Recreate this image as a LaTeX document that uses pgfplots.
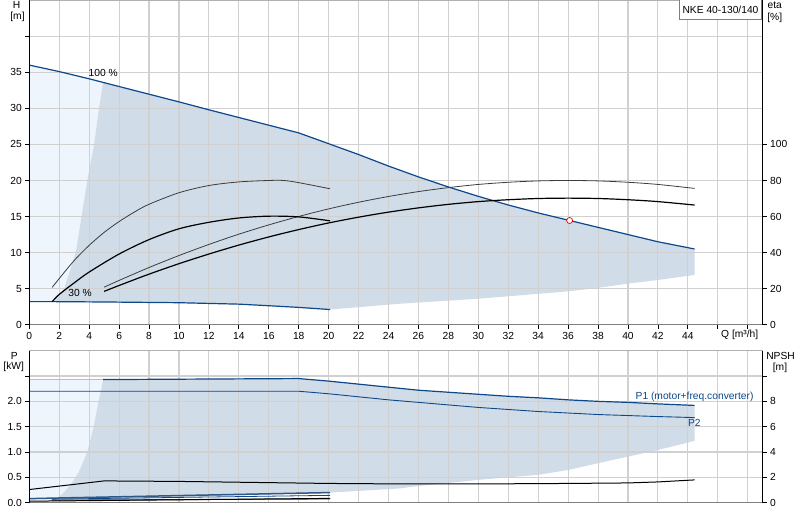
\documentclass[border=0pt]{standalone}
\usepackage{fontspec}
\setmainfont{Liberation Sans}
\usepackage{pgfplots}
\pgfplotsset{compat=1.18}

\definecolor{gridgray}{RGB}{208,208,208}
\definecolor{axisgray}{RGB}{128,128,128}
\definecolor{opfill}{RGB}{208,220,232}
\definecolor{oplight}{RGB}{238,245,253}
\definecolor{curveblue}{RGB}{14,72,138}
\definecolor{thinblack}{RGB}{60,60,60}
\definecolor{stripe}{RGB}{176,192,210}

\pgfplotsset{
  chart/.style={
    scale only axis, width=733.4bp,
    xmin=0, xmax=49,
    set layers,
    axis line style={draw=none},
    grid=major, grid style={gridgray, line width=1.1bp},
    tick align=outside, major tick length=4bp,
    tick style={black, line width=0.8bp},
    ticklabel style={font=\fontsize{10.3}{12}\selectfont},
    xtick={0,2,...,48},
    xtick pos=bottom, ytick pos=left,
    clip=false,
  },
  side/.style={
    scale only axis, width=733.4bp,
    xmin=0, xmax=49,
    hide x axis,
    axis y line*=right,
    axis line style={draw=none},
    tick align=outside, major tick length=4bp,
    tick style={black, line width=0.8bp},
    ticklabel style={font=\fontsize{10.3}{12}\selectfont},
    clip=false,
  },
}

\begin{document}
\begin{tikzpicture}[every node/.style={font=\fontsize{10.3}{12}\selectfont}]

% ---------- Q-H / eta diagram ----------
\begin{axis}[chart,
  at={(29.3bp,195.3bp)}, anchor=south west, height=324.5bp,
  ymin=0, ymax=45, ytick={0,5,...,40},
  yticklabels={0,5,10,15,20,25,30,35,{}},
  xticklabels={0,2,4,6,8,10,12,14,16,18,20,22,24,26,28,30,32,34,36,38,40,42,44,{},{}},
]
  % operating range
  \addplot[on layer=axis background, fill=oplight, draw=none] coordinates {
    (0,3.2) (0,36.0) (2,35.1) (4,34.1) (4.93,33.6) (4.65,30) (4.33,25)
    (3.87,20) (3.49,15) (3.1,10) (2.33,5) (1.53,3.2)
  } -- cycle;
  \addplot[on layer=axis background, fill=opfill, draw=none] coordinates {
    (4.93,33.6) (10,30.9) (12,29.8) (18,26.6) (20,25.1) (22,23.6) (24,22.0)
    (26,20.5) (28,19.1) (30,17.8) (32,16.6) (34,15.5) (36,14.5) (38,13.5)
    (40,12.5) (42,11.5) (44.45,10.5)
    (44.45,6.9) (42,6.2) (40,5.7) (38,5.1) (35.9,4.6) (30,3.6) (24.7,2.9)
    (20.1,2.1) (18,2.4) (16,2.63) (14,2.85) (10,3.05) (5,3.15) (1.53,3.2)
    (2.33,5) (3.1,10) (3.49,15) (3.87,20) (4.33,25) (4.65,30)
  } -- cycle;

  % max curve (100 %)
  \addplot[curveblue, line width=1.2bp] coordinates {
    (0,36.0) (2,35.1) (4,34.1) (4.93,33.6) (10,30.9) (12,29.8) (18,26.6)
    (20,25.1) (22,23.6) (24,22.0) (26,20.5) (28,19.1) (30,17.8) (32,16.6)
    (34,15.5) (36,14.5) (38,13.5) (40,12.5) (42,11.5) (44.45,10.5)
  };
  % min curve (30 %)
  \addplot[curveblue, line width=1.2bp] coordinates {
    (0,3.2) (1.53,3.2) (5,3.15) (10,3.05) (14,2.85) (16,2.63) (18,2.4) (20.1,2.1)
  };

  % eta curves
  \addplot[thinblack, line width=0.8bp, smooth] coordinates {
    (5,5.20) (6,6.14) (8,7.93) (10,9.59) (12,11.13) (14,12.55) (16,13.84)
    (18,15.01) (20,16.06) (22,16.98) (24,17.78) (26,18.46) (28,19.01)
    (30,19.45) (32,19.75) (34,19.94) (36,20.0) (38,19.94) (40,19.75)
    (42,19.45) (44.45,18.90)
  };
  \addplot[black, line width=1.2bp, smooth] coordinates {
    (5,4.62) (6,5.44) (8,7.01) (10,8.46) (12,9.80) (14,11.04) (16,12.17)
    (18,13.19) (20,14.11) (22,14.91) (24,15.61) (26,16.20) (28,16.69)
    (30,17.07) (32,17.33) (34,17.50) (36,17.55) (38,17.50) (40,17.33)
    (42,17.07) (44.45,16.59)
  };

  % reduced speed Q-H curves
  \addplot[thinblack, line width=0.8bp, smooth] coordinates {
    (1.53,5.18) (2,6.4) (3,8.9) (4,11.0) (5,12.8) (6,14.3) (7,15.6)
    (8,16.7) (10,18.3) (12,19.3) (14,19.8) (16,20.0) (17,20.0) (18,19.7)
    (20.1,18.85)
  };
  \addplot[black, line width=1.2bp, smooth] coordinates {
    (1.53,3.2) (2,4.2) (3,5.8) (4,7.3) (6,9.8) (8,11.8) (10,13.3)
    (12,14.2) (14,14.8) (16,15.05) (18,14.95) (20.1,14.4)
  };

  % operating point
  \addplot[only marks, mark=*, mark size=3bp,
    mark options={draw=red!85!black, fill=white, line width=0.7bp}]
    coordinates {(36.1,14.45)};

  \node[anchor=west, inner sep=0pt] at (axis cs:3.95,34.9) {100 \%};
  \node[anchor=west, inner sep=0pt] at (axis cs:2.6,4.45) {30 \%};

  % frame
  \draw[gridgray!60!gray, line width=0.8bp] (rel axis cs:0,1) -- (rel axis cs:1,1);
  \draw[axisgray, line width=1.6bp] (rel axis cs:0,0) -- (rel axis cs:1,0);
  \draw[black, line width=0.8bp] (rel axis cs:0,0) -- (rel axis cs:0,1);
  \draw[black, line width=0.8bp] (rel axis cs:1,0) -- (rel axis cs:1,1);
\end{axis}

\begin{axis}[side,
  at={(29.3bp,195.3bp)}, anchor=south west, height=324.5bp,
  ymin=0, ymax=180, ytick={0,20,...,100},
  yticklabels={0,20,40,60,80,100},
]
  \addplot[draw=none, forget plot] coordinates {(0,0) (49,180)};
\end{axis}

% ---------- P / NPSH diagram ----------
\begin{axis}[chart,
  at={(29.3bp,17.3bp)}, anchor=south west, height=152bp,
  ymin=0, ymax=3, ytick={0,0.5,1,1.5,2,2.5},
  yticklabels={0.0,0.5,1.0,1.5,2.0,{}},
  xmajorticks=false,
]
  \addplot[on layer=axis background, fill=oplight, draw=none] coordinates {
    (0,0.06) (0,2.43) (4.93,2.43) (4.78,2.2) (4.62,2.0) (4.3,1.5) (3.87,1.0)
    (3.3,0.6) (2.75,0.35) (2.2,0.17) (1.56,0.03)
  } -- cycle;
  \addplot[on layer=axis background, fill=opfill, draw=none] coordinates {
    (4.93,2.43) (18,2.45) (20,2.40) (22,2.34) (24,2.28) (26,2.22) (28,2.18)
    (30,2.14) (32,2.10) (34,2.07) (36,2.03) (38,2.0) (40,1.98) (42,1.95)
    (44.45,1.92)
    (44.45,1.22) (42,1.04) (40,0.91) (38,0.78) (36,0.645) (34,0.55)
    (32,0.5) (30,0.45) (28,0.39) (26,0.33) (24.7,0.28) (20.1,0.2) (1.56,0.03)
    (2.2,0.17) (2.75,0.35) (3.3,0.6) (3.87,1.0) (4.3,1.5) (4.62,2.0) (4.78,2.2)
  } -- cycle;

  % P1
  \addplot[stripe, line width=1.2bp] coordinates {(0,2.43) (4.93,2.43)};
  \addplot[curveblue, line width=1.2bp] coordinates {
    (4.93,2.43) (18,2.45) (20,2.40) (22,2.34) (24,2.28) (26,2.22) (28,2.18)
    (30,2.14) (32,2.10) (34,2.07) (36,2.03) (38,2.0) (40,1.98) (42,1.95)
    (44.45,1.92)
  };
  % P2
  \addplot[curveblue, line width=0.9bp] coordinates {
    (0,2.2) (18,2.2) (20,2.15) (22,2.09) (24,2.03) (26,1.98) (28,1.93)
    (30,1.88) (32,1.84) (34,1.80) (36,1.77) (38,1.74) (40,1.72) (42,1.70)
    (44.45,1.68)
  };
  % reduced speed power curves
  \addplot[curveblue!70!gray, line width=1.5bp] coordinates {(0,0.08) (1.5,0.09) (20.1,0.2)};
  \addplot[curveblue, line width=0.8bp] coordinates {(1.5,0.07) (20.1,0.145)};
  \addplot[thinblack, line width=1bp] coordinates {(1.5,0.05) (20.1,0.075)};
  \addplot[black, line width=1bp] coordinates {(0,0.03) (20.1,0.085)};

  \node[anchor=west, inner sep=0pt, text=curveblue] at (axis cs:40.5,2.09) {P1 (motor+freq.converter)};
  \node[anchor=west, inner sep=0pt, text=curveblue] at (axis cs:44.0,1.57) {P2};

  % frame
  \draw[gridgray!60!gray, line width=0.8bp] (rel axis cs:0,1) -- (rel axis cs:1,1);
  \draw[axisgray, line width=1.6bp] (rel axis cs:0,0) -- (rel axis cs:1,0);
  \draw[black, line width=0.8bp] (rel axis cs:0,0) -- (rel axis cs:0,1);
  \draw[black, line width=0.8bp] (rel axis cs:1,0) -- (rel axis cs:1,1);
\end{axis}

\begin{axis}[side,
  at={(29.3bp,17.3bp)}, anchor=south west, height=152bp,
  ymin=0, ymax=12, ytick={0,2,...,10},
  yticklabels={0,2,4,6,8,{}},
]
  % NPSH
  \addplot[black, line width=1bp] coordinates {
    (0,1.04) (5,1.72) (10,1.68) (15,1.60) (20,1.52) (25,1.48) (30,1.48)
    (36,1.52) (40,1.56) (42,1.64) (44.45,1.80)
  };
\end{axis}

% axis titles
\node at (16.7bp,515.5bp) {H};
\node at (17.5bp,503bp) {[m]};
\node at (774.7bp,514.5bp) {eta};
\node at (774.7bp,502.5bp) {[\%]};
\node at (739.7bp,185bp) {Q [m³/h]};
\node at (14.2bp,164.5bp) {P};
\node at (13.7bp,152.8bp) {[kW]};
\node at (780.5bp,164bp) {NPSH};
\node at (780bp,152.5bp) {[m]};

% type label
\draw[axisgray, fill=white, line width=0.8bp] (679.3bp,501bp) rectangle (761.7bp,520.5bp);
\node at (720.5bp,510.5bp) {NKE 40-130/140};

\pgfresetboundingbox
\path[use as bounding box] (0bp,0bp) rectangle (800bp,520bp);
\end{tikzpicture}
\end{document}
